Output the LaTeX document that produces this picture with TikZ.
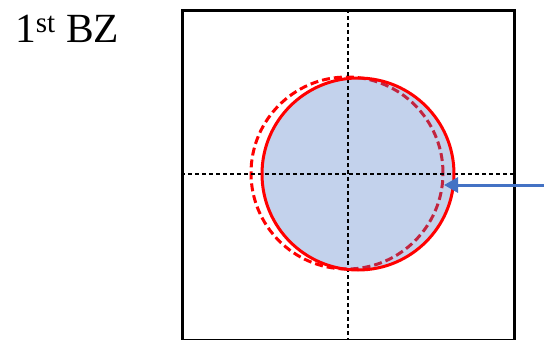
\documentclass[tikz,border=0pt]{standalone}
\usepackage{fontspec}
\setmainfont{Liberation Serif}
\usetikzlibrary{arrows.meta}
\definecolor{bzblue}{HTML}{4472C4}
\begin{document}
\begin{tikzpicture}[x=1pt,y=-1pt,
  axis/.style={black, line width=1.2pt, dash pattern=on 4pt off 3pt},
  frame/.style={black, line width=3pt},
  ring/.style={circle, minimum size=192pt, inner sep=0pt, red, line width=3pt},
  arr/.style={bzblue, line width=3pt, -{Triangle[length=14pt,width=15pt]}}]
\useasboundingbox (0,0) rectangle (544,340);
\node[anchor=base west, inner sep=0pt, font=\fontsize{41.5}{50}\selectfont] (lbl) at (15,42) {1\textsuperscript{st} BZ};
% dashed circle (behind the fill)
\node[ring, draw, dash pattern=on 8pt off 4pt] (dc) at (347,173) {};
% fill of the shifted circle
\node[ring, fill=bzblue, fill opacity=0.32] (fc) at (358,174) {};
% axes
\coordinate (vt) at (348,9);
\coordinate (vb) at (348,339);
\coordinate (hl) at (181,174);
\coordinate (hr) at (513,174);
\draw[axis] (vt) -- (vb);
\draw[axis] (hl) -- (hr);
% solid circle
\node[ring, draw] (sc) at (358,174) {};
% frame
\node[frame, draw, minimum width=332pt, minimum height=330pt, inner sep=0pt, anchor=north west] (bz) at (181,9) {};
% arrow
\coordinate (as) at (544,185);
\coordinate (ae) at (444,185);
\draw[arr] (as) -- (ae);
\end{tikzpicture}
\end{document}
